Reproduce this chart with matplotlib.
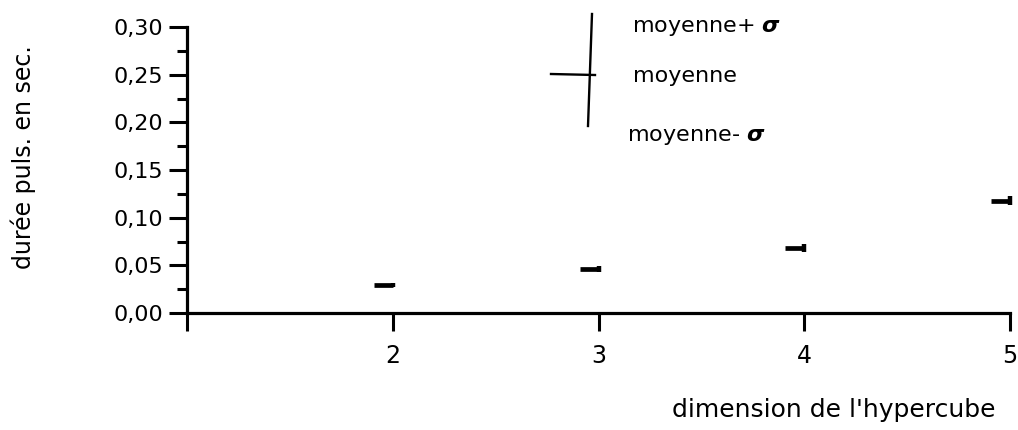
import matplotlib
matplotlib.use("Agg")
import matplotlib.pyplot as plt
from matplotlib.path import Path
from matplotlib.ticker import FuncFormatter, MultipleLocator

# data
dims = [2, 3, 4, 5]
means = [0.029, 0.046, 0.068, 0.118]
sigmas = [0.002, 0.003, 0.004, 0.005]
xticks = [1, 2, 3, 4, 5]
xticklabels = ['', '2', '3', '4', '5']
yticks = [0.00, 0.05, 0.10, 0.15, 0.20, 0.25, 0.30]

plt.rcParams['font.family'] = ['DejaVu Sans']
plt.rcParams['mathtext.fontset'] = 'dejavusans'

W, H = 1018, 430
fig = plt.figure(figsize=(W / 100, H / 100), dpi=100)
left, right, bottom_px, top_px = 187, 1010, 313, 27
ax = fig.add_axes([left / W, 1 - bottom_px / H, (right - left) / W, (bottom_px - top_px) / H])
ax.set_xlim(1, 5)
ax.set_ylim(0, 0.30)
for s in ['top', 'right']:
    ax.spines[s].set_visible(False)
for s in ['left', 'bottom']:
    ax.spines[s].set_linewidth(2.3)

ax.set_xticks(xticks)
ax.set_xticklabels(xticklabels)
ax.set_yticks(yticks)
ax.yaxis.set_major_formatter(FuncFormatter(lambda v, p: f"{v:.2f}".replace('.', ',')))
ax.yaxis.set_minor_locator(MultipleLocator(0.025))
ax.tick_params(axis='both', which='major', length=13, width=2.2, direction='out')
ax.tick_params(axis='y', which='major', labelsize=16, pad=4)
ax.tick_params(axis='x', which='major', labelsize=17, pad=9)
ax.tick_params(axis='y', which='minor', length=7, width=2.2, direction='out')

# mean marker: left-pointing tick, sigma: vertical bar
left_tick = Path([(-1, 0), (0, 0)], [Path.MOVETO, Path.LINETO])
ax.errorbar(dims, means, yerr=sigmas, fmt='none', ecolor='black', elinewidth=3.2,
            capsize=0, clip_on=False)
ax.plot(dims, means, linestyle='none', marker=left_tick, markersize=28,
        markeredgewidth=3.4, color='black', clip_on=False)

# hand-drawn legend
def fx(px):
    return (px - left) / (right - left)

def fy(py):
    return (bottom_px - py) / (bottom_px - top_px)

ax.plot([fx(592), fx(588)], [fy(14), fy(126)], transform=ax.transAxes, color='black',
        lw=1.7, clip_on=False)
ax.plot([fx(551), fx(595)], [fy(74), fy(75)], transform=ax.transAxes, color='black',
        lw=1.7, clip_on=False)
ax.text(fx(632), fy(27), r'moyenne+ $\boldsymbol{\sigma}$', transform=ax.transAxes,
        fontsize=16, va='center', ha='left')
ax.text(fx(633), fy(76), 'moyenne', transform=ax.transAxes,
        fontsize=16, va='center', ha='left')
ax.text(fx(627), fy(137), r'moyenne- $\boldsymbol{\sigma}$', transform=ax.transAxes,
        fontsize=16, va='center', ha='left')

fig.text(995 / W, 1 - 410 / H, "dimension de l'hypercube", fontsize=18,
         ha='right', va='center')
fig.text(23 / W, 1 - 157 / H, 'durée puls. en sec.', fontsize=17, rotation=90,
         ha='center', va='center')

fig.savefig('out.png', dpi=100)
